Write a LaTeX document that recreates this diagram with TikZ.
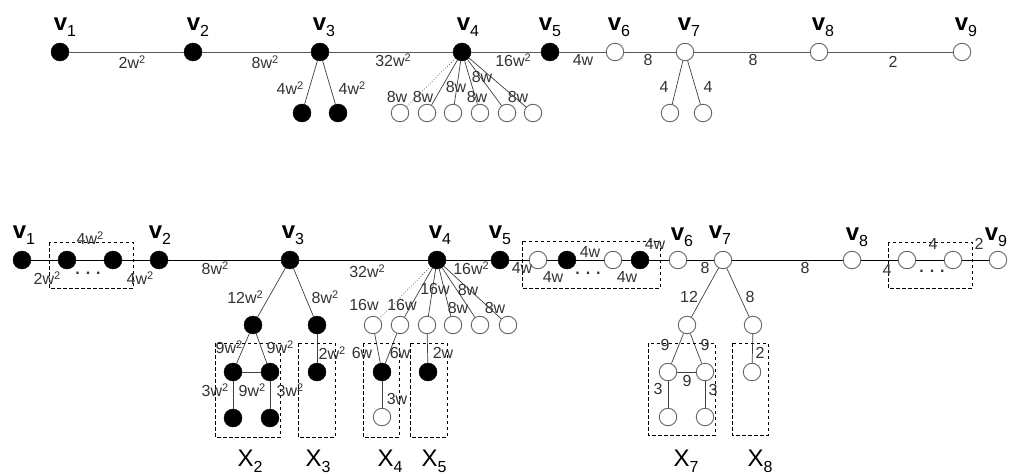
\documentclass[tikz,border=0pt]{standalone}
\usepackage{fontspec}
\setmainfont{Liberation Sans}
\begin{document}
\begin{tikzpicture}[x=1pt,y=-1pt,
  fnode/.style={circle,fill=black,draw=black,inner sep=0pt,minimum size=18pt},
  onode/.style={circle,fill=white,draw=black!60,line width=0.9pt,inner sep=0pt,minimum size=17.5pt},
  elab/.style={inner sep=0pt,text=black!80,font=\fontsize{16}{16}\selectfont},
  vlab/.style={inner sep=0pt,text=black,font=\fontsize{24}{24}\selectfont},
  xlab/.style={inner sep=0pt,text=black,font=\fontsize{24}{24}\selectfont},
  tedge/.style={draw=black!65,line width=0.9pt},
  bedge/.style={draw=black,line width=0.8pt},
  cedge/.style={draw=black!75,line width=0.7pt},
  dotedge/.style={draw=black!70,line width=0.7pt,dotted},
  dbox/.style={draw=black,line width=0.9pt,dash pattern=on 3.5pt off 2.5pt}]
\newcommand\vv[1]{\textbf{v}\raisebox{-6pt}{\fontsize{16}{16}\selectfont #1}}
\newcommand\xx[1]{X\raisebox{-6pt}{\fontsize{16}{16}\selectfont #1}}
\newcommand\sq{\raisebox{5pt}{\fontsize{11}{11}\selectfont 2}}
\useasboundingbox[fill=white] (0,0) rectangle (1009,476);

% ---------------- top graph ----------------
\node[fnode] (t1) at (60,52) {};
\node[fnode] (t2) at (193,52) {};
\node[fnode] (t3) at (320,52) {};
\node[fnode] (t4) at (462,52) {};
\node[fnode] (t5) at (550,52) {};
\node[onode] (t6) at (615,52) {};
\node[onode] (t7) at (685,52) {};
\node[onode] (t8) at (819,52) {};
\node[onode] (t9) at (962,52) {};
\node[fnode] (t3a) at (302,113) {};
\node[fnode] (t3b) at (338,113) {};
\node[onode] (t4a) at (400,113) {};
\node[onode] (t4b) at (427,113) {};
\node[onode] (t4c) at (453,113) {};
\node[onode] (t4d) at (480,113) {};
\node[onode] (t4e) at (507,113) {};
\node[onode] (t4f) at (533,113) {};
\node[onode] (t7a) at (670,113) {};
\node[onode] (t7b) at (703,113) {};

\draw[tedge] (t1) -- (t2) -- (t3) -- (t4) -- (t5) -- (t6) -- (t7) -- (t8) -- (t9);
\draw[cedge] (t3) -- (t3a);
\draw[cedge] (t3) -- (t3b);
\draw[dotedge] (t4) -- (t4a);
\foreach \c in {t4b,t4c,t4d,t4e,t4f} \draw[cedge] (t4) -- (\c);
\draw[cedge] (t7) -- (t7a);
\draw[cedge] (t7) -- (t7b);

\node[vlab] (lt1) at (65,27) {\vv{1}};
\node[vlab] (lt2) at (198,27) {\vv{2}};
\node[vlab] (lt3) at (324,27) {\vv{3}};
\node[vlab] (lt4) at (468,27) {\vv{4}};
\node[vlab] (lt5) at (550,27) {\vv{5}};
\node[vlab] (lt6) at (619,27) {\vv{6}};
\node[vlab] (lt7) at (689,27) {\vv{7}};
\node[vlab] (lt8) at (823,27) {\vv{8}};
\node[vlab] (lt9) at (966,27) {\vv{9}};

\node[elab] (e1) at (132,62) {2w\sq};
\node[elab] (e2) at (265,62) {8w\sq};
\node[elab] (e3) at (393,60) {32w\sq};
\node[elab] (e4) at (513,60) {16w\sq};
\node[elab] (e5) at (583,60) {4w};
\node[elab] (e6) at (648,60) {8};
\node[elab] (e7) at (753,60) {8};
\node[elab] (e8) at (893,62) {2};
\node[elab] (e9) at (290,88) {4w\sq};
\node[elab] (e10) at (352,88) {4w\sq};
\node[elab] (e11) at (397,97) {8w};
\node[elab] (e12) at (423,97) {8w};
\node[elab] (e13) at (456,87) {8w};
\node[elab] (e14) at (482,77) {8w};
\node[elab] (e15) at (477,97) {8w};
\node[elab] (e16) at (518,97) {8w};
\node[elab] (e17) at (664,87) {4};
\node[elab] (e18) at (708,87) {4};

% ---------------- bottom graph ----------------
\node[fnode] (b1) at (22,260) {};
\node[fnode] (b1a) at (67,260) {};
\node[fnode] (b1b) at (113,260) {};
\node[fnode] (b2) at (159,260) {};
\node[fnode] (b3) at (290,260) {};
\node[fnode] (b4) at (437,260) {};
\node[fnode] (b5) at (500,260) {};
\node[onode] (b5a) at (538,260) {};
\node[fnode] (b5b) at (567,260) {};
\node[onode] (b5c) at (613,260) {};
\node[fnode] (b5d) at (640,260) {};
\node[onode] (b6) at (678,260) {};
\node[onode] (b7) at (723,260) {};
\node[onode] (b8) at (852,260) {};
\node[onode] (b8a) at (907,260) {};
\node[onode] (b8b) at (953,260) {};
\node[onode] (b9) at (998,260) {};

\node[fnode] (b3a) at (253,325) {};
\node[fnode] (b3b) at (317,325) {};
\node[onode] (b4a) at (373,325) {};
\node[onode] (b4b) at (400,325) {};
\node[onode] (b4c) at (427,325) {};
\node[onode] (b4d) at (453,325) {};
\node[onode] (b4e) at (480,325) {};
\node[onode] (b4f) at (508,325) {};
\node[onode] (b7a) at (687,325) {};
\node[onode] (b7b) at (753,325) {};

\node[fnode] (x21) at (233,372) {};
\node[fnode] (x22) at (270,372) {};
\node[fnode] (x23) at (233,418) {};
\node[fnode] (x24) at (270,418) {};
\node[fnode] (x31) at (317,372) {};
\node[fnode] (x41) at (382,372) {};
\node[onode] (x42) at (382,417) {};
\node[fnode] (x51) at (428,372) {};
\node[onode] (x71) at (668,372) {};
\node[onode] (x72) at (705,372) {};
\node[onode] (x73) at (668,417) {};
\node[onode] (x74) at (705,417) {};
\node[onode] (x81) at (752,372) {};

\draw[bedge] (b1) -- (b1a) -- (b1b) -- (b2) -- (b3) -- (b4) -- (b5) -- (b5a) -- (b5b) -- (b5c) -- (b5d) -- (b6) -- (b7) -- (b8) -- (b8a) -- (b8b) -- (b9);
\draw[cedge] (b3) -- (b3a);
\draw[cedge] (b3) -- (b3b);
\draw[cedge] (b3a) -- (x21);
\draw[cedge] (b3a) -- (x22);
\draw[cedge] (x21) -- (x22);
\draw[cedge] (x21) -- (x23);
\draw[cedge] (x22) -- (x24);
\draw[cedge] (b3b) -- (x31);
\draw[dotedge] (b4) -- (b4a);
\foreach \c in {b4b,b4c,b4d,b4e,b4f} \draw[cedge] (b4) -- (\c);
\draw[cedge] (b4a) -- (x41);
\draw[cedge] (b4b) -- (x41);
\draw[cedge] (x41) -- (x42);
\draw[cedge] (b4c) -- (x51);
\draw[cedge] (b7) -- (b7a);
\draw[cedge] (b7) -- (b7b);
\draw[cedge] (b7a) -- (x71);
\draw[cedge] (b7a) -- (x72);
\draw[cedge] (x71) -- (x72);
\draw[cedge] (x71) -- (x73);
\draw[cedge] (x72) -- (x74);
\draw[cedge] (b7b) -- (x81);

% dashed boxes
\draw[dbox] (49,242) rectangle (133,288);
\draw[dbox] (522,241) rectangle (660,288);
\draw[dbox] (888,242) rectangle (972,288);
\draw[dbox] (215,343) rectangle (280,437);
\draw[dbox] (298,343) rectangle (335,437);
\draw[dbox] (363,343) rectangle (399,437);
\draw[dbox] (410,343) rectangle (447,437);
\draw[dbox] (648,343) rectangle (715,435);
\draw[dbox] (732,343) rectangle (768,435);

\node[vlab] (lb1) at (24,235) {\vv{1}};
\node[vlab] (lb2) at (160,235) {\vv{2}};
\node[vlab] (lb3) at (293,235) {\vv{3}};
\node[vlab] (lb4) at (440,235) {\vv{4}};
\node[vlab] (lb5) at (500,235) {\vv{5}};
\node[vlab] (lb6) at (682,237) {\vv{6}};
\node[vlab] (lb7) at (720,235) {\vv{7}};
\node[vlab] (lb8) at (857,237) {\vv{8}};
\node[vlab] (lb9) at (996,237) {\vv{9}};

\node[elab] (f1) at (90,238) {4w\sq};
\node[elab] (f2) at (47,278) {2w\sq};
\node[elab] (f3) at (88,273) {\textbf{. . .}};
\node[elab] (f4) at (140,278) {4w\sq};
\node[elab] (f5) at (215,268) {8w\sq};
\node[elab] (f6) at (245,297) {12w\sq};
\node[elab] (f7) at (325,297) {8w\sq};
\node[elab] (f8) at (367,271) {32w\sq};
\node[elab] (f9) at (471,268) {16w\sq};
\node[elab] (f10) at (364,305) {16w};
\node[elab] (f11) at (402,305) {16w};
\node[elab] (f12) at (435,289) {16w};
\node[elab] (f13) at (468,290) {8w};
\node[elab] (f14) at (458,308) {8w};
\node[elab] (f15) at (495,308) {8w};
\node[elab] (f16) at (229,347) {9w\sq};
\node[elab] (f17) at (280,347) {9w\sq};
\node[elab] (f18) at (215,390) {3w\sq};
\node[elab] (f19) at (252,390) {9w\sq};
\node[elab] (f20) at (290,390) {3w\sq};
\node[elab] (f21) at (332,353) {2w\sq};
\node[elab] (f22) at (362,353) {6w};
\node[elab] (f23) at (400,353) {6w};
\node[elab] (f24) at (397,399) {3w};
\node[elab] (f25) at (443,353) {2w};
\node[elab] (f26) at (522,268) {4w};
\node[elab] (f27) at (553,277) {4w};
\node[elab] (f28) at (590,252) {4w};
\node[elab] (f29) at (588,273) {\textbf{. . .}};
\node[elab] (f30) at (627,277) {4w};
\node[elab] (f31) at (655,244) {4w};
\node[elab] (f32) at (705,268) {8};
\node[elab] (f33) at (689,297) {12};
\node[elab] (f34) at (750,297) {8};
\node[elab] (f35) at (665,345) {9};
\node[elab] (f36) at (705,345) {9};
\node[elab] (f37) at (687,381) {9};
\node[elab] (f38) at (658,389) {3};
\node[elab] (f39) at (713,390) {3};
\node[elab] (f40) at (760,353) {2};
\node[elab] (f41) at (805,268) {8};
\node[elab] (f42) at (887,270) {4};
\node[elab] (f43) at (933,244) {4};
\node[elab] (f44) at (932,271) {\textbf{. . .}};
\node[elab] (f45) at (979,244) {2};

\node[xlab] (X2) at (250,461) {\xx{2}};
\node[xlab] (X3) at (318,461) {\xx{3}};
\node[xlab] (X4) at (390,461) {\xx{4}};
\node[xlab] (X5) at (434,461) {\xx{5}};
\node[xlab] (X7) at (686,461) {\xx{7}};
\node[xlab] (X8) at (760,461) {\xx{8}};
\end{tikzpicture}
\end{document}
